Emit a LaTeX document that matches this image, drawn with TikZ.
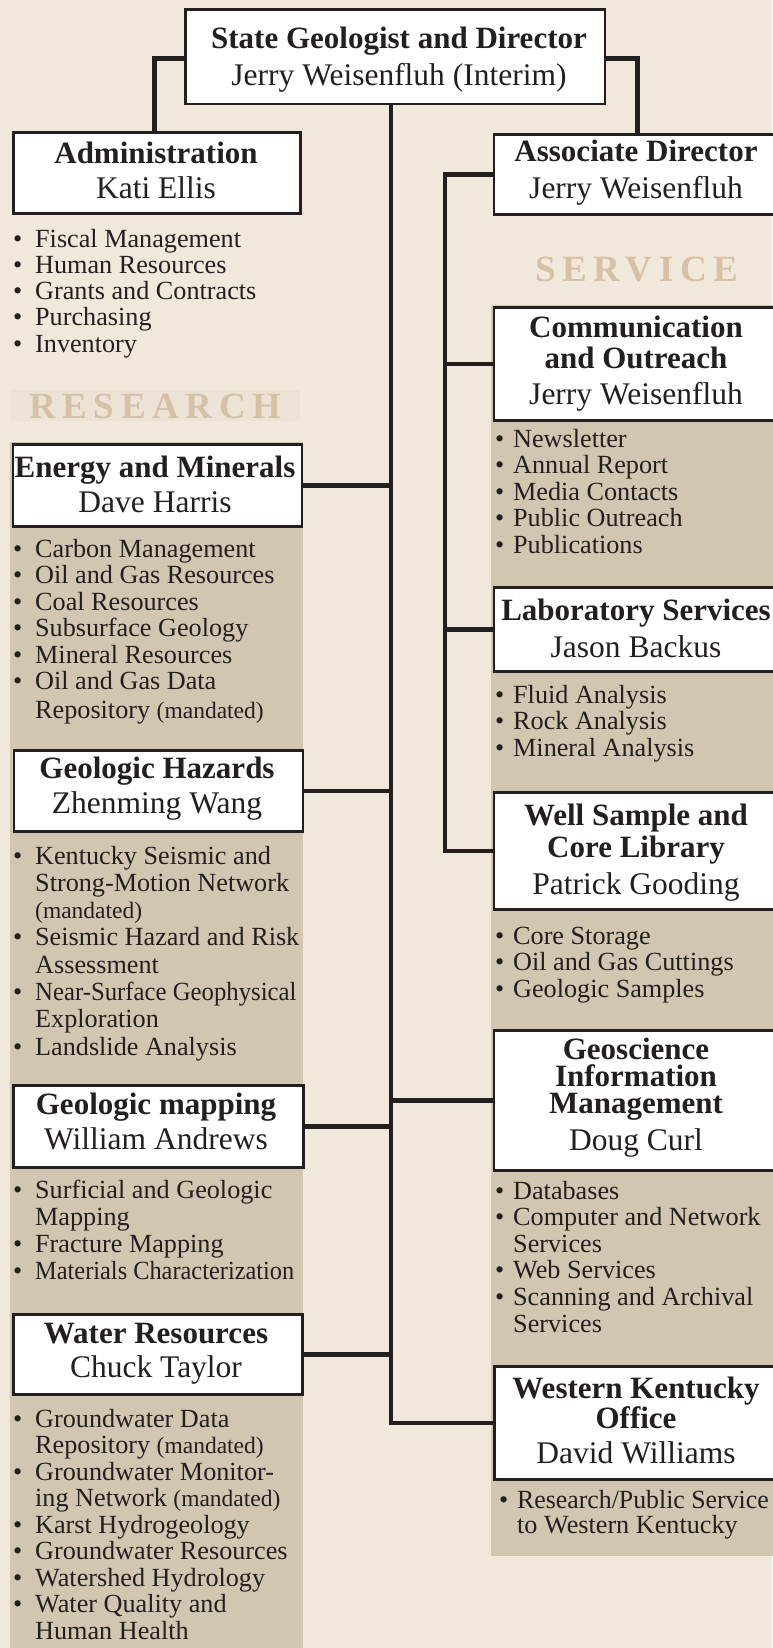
\documentclass[tikz,border=0pt]{standalone}
\usepackage{fontspec}
\usepackage{graphicx}
\setmainfont{Liberation Serif}
\definecolor{bgc}{HTML}{F0E8DA}
\definecolor{tanc}{HTML}{D1C6B0}
\definecolor{sectc}{HTML}{D5C1A5}
\definecolor{bandc}{HTML}{ECE2D5}
\definecolor{ink}{HTML}{231F20}
\newlength\bw
\newcommand\xhd{\bfseries\fontsize{31}{31}\selectfont}
\newcommand\xnm{\fontsize{31.5}{31.5}\selectfont}
\newcommand\xls{\fontsize{26.2}{26.5}\selectfont}
\newcommand\xsect{\bfseries\fontsize{37}{37}\selectfont\addfontfeature{LetterSpace=18}}
\newcommand\mand{{\fontsize{23.5}{23.5}\selectfont (mandated)}}
\newcommand\xitm[1]{\hbox{\makebox[\bw][l]{\textbullet}#1}}
\newcommand\xcnt[1]{\hbox{\hskip\bw #1}}
\newcommand\xctr[2]{\vtop{\baselineskip=#1\relax\halign{\hfil##\hfil\cr#2\crcr}}}
\newcommand\xblk[2]{\vtop{\baselineskip=#1\relax\lineskiplimit=-100pt\lineskip=0pt #2}}
\tikzset{
  obox/.style={draw=ink, line width=2.5pt, fill=white, inner sep=0pt, rectangle, anchor=north west},
  thead/.style={font=\xhd, text=ink, inner sep=0pt, anchor=base},
  tname/.style={font=\xnm, text=ink, inner sep=0pt, anchor=base},
  tlist/.style={font=\xls, text=ink, inner sep=0pt, anchor=base west},
  tsect/.style={font=\xsect, text=sectc, inner sep=0pt, anchor=base west},
  tconn/.style={draw=ink, line width=4.5pt, line cap=rect, line join=miter},
}
\begin{document}
\begin{tikzpicture}[x=1pt,y=-1pt]
\useasboundingbox (0,0) rectangle (772,1648);
\fill[bgc] (0,0) rectangle (772,1648);
% bands and panels
\fill[bandc] (11,390) rectangle (300,421);
\fill[tanc] (10,442) rectangle (303,1648);
\fill[tanc] (491,305) rectangle (790,1556);

% spine coordinates
\coordinate (sp) at (391,107);
\coordinate (sp2) at (445,171);

% boxes
\node[obox, minimum width=419.5pt, minimum height=94.5pt] (top) at (184.25,8.25) {};
\node[obox, minimum width=287pt, minimum height=81pt] (admin) at (12.25,131.25) {};
\node[obox, minimum width=289pt, minimum height=82pt] (energy) at (11.5,443.25) {};
\node[obox, minimum width=289pt, minimum height=81pt] (haz) at (12.5,749.25) {};
\node[obox, minimum width=290pt, minimum height=82pt] (map) at (12.25,1084.25) {};
\node[obox, minimum width=289pt, minimum height=80pt] (water) at (12.25,1313.25) {};
\node[obox, minimum width=300pt, minimum height=80pt] (ad) at (492.5,133.25) {};
\node[obox, minimum width=300pt, minimum height=113pt] (comm) at (492.5,306.25) {};
\node[obox, minimum width=300pt, minimum height=84pt] (lab) at (492.5,586.25) {};
\node[obox, minimum width=300pt, minimum height=117pt] (well) at (492.5,791.25) {};
\node[obox, minimum width=300pt, minimum height=140pt] (geo) at (492.5,1029.25) {};
\node[obox, minimum width=300pt, minimum height=113pt] (wk) at (493,1365.25) {};

% connectors
\draw[tconn] ([yshift=-2pt]top.west) -| ([xshift=-2.5pt]admin.north);
\draw[tconn] ([yshift=-2pt]top.east) -| ([xshift=-6.5pt]ad.north);
\draw[tconn] (sp) |- (wk.west);
\draw[tconn] (energy.east) -- (energy.east -| sp);
\draw[tconn] (haz.east) -- (haz.east -| sp);
\draw[tconn] (map.east) -- (map.east -| sp);
\draw[tconn] (water.east) -- (water.east -| sp);
\draw[tconn] (geo.west) -- (geo.west -| sp);
\draw[tconn] (ad.west) -- (ad.west -| sp2) |- (well.west);
\draw[tconn] (comm.west) -- (comm.west -| sp2);
\draw[tconn] (lab.west) -- (lab.west -| sp2);

% section labels
\node[tsect] (research) at (29,418) {RESEARCH};
\node[tsect] (service) at (535,281) {SERVICE};

% titles
\node[thead] (topH) at (399,49) {State Geologist and Director};
\node[tname] (topN) at (399,85.5) {Jerry Weisenfluh (Interim)};
\node[thead] (adminH) at (156,164) {Administration};
\node[tname] (adminN) at (156,199) {Kati Ellis};
\node[thead] (energyH) at (155,477) {Energy and Minerals};
\node[tname] (energyN) at (155,512) {Dave Harris};
\node[thead] (hazH) at (157,778) {Geologic Hazards};
\node[tname] (hazN) at (157,813) {Zhenming Wang};
\node[thead] (mapH) at (156,1114) {Geologic mapping};
\node[tname] (mapN) at (156,1149) {William Andrews};
\node[thead] (waterH) at (156,1343) {Water Resources};
\node[tname] (waterN) at (156,1377) {Chuck Taylor};
\node[thead] (adH) at (636,162) {Associate Director};
\node[tname] (adN) at (636,198) {Jerry Weisenfluh};
\node[thead] (commH) at (636,337) {\xctr{31pt}{Communication\cr and Outreach}};
\node[tname] (commN) at (636,404) {Jerry Weisenfluh};
\node[thead] (labH) at (636,620) {Laboratory Services};
\node[tname] (labN) at (636,657) {Jason Backus};
\node[thead] (wellH) at (636,825) {\xctr{32pt}{Well Sample and\cr Core Library}};
\node[tname] (wellN) at (636,894) {Patrick Gooding};
\node[thead] (geoH) at (636,1059) {\xctr{27pt}{Geoscience\cr Information\cr Management}};
\node[tname] (geoN) at (636,1150) {Doug Curl};
\node[thead] (wkH) at (636,1398) {\xctr{30pt}{Western Kentucky\cr Office}};
\node[tname] (wkN) at (636,1463) {David Williams};

% lists
\node[tlist] (adminL) at (13,247) {\setlength\bw{22pt}\xblk{26.25pt}{%
  \xitm{Fiscal Management}\xitm{Human Resources}\xitm{Grants and Contracts}%
  \xitm{Purchasing}\xitm{Inventory}}};
\node[tlist] (energyL) at (13,557) {\setlength\bw{22pt}\xblk{26.5pt}{%
  \xitm{Carbon Management}\xitm{Oil and Gas Resources}\xitm{Coal Resources}%
  \xitm{Subsurface Geology}\xitm{Mineral Resources}\xitm{Oil and Gas Data}%
  \vskip2.5pt\xcnt{Repository \mand}}};
\node[tlist] (hazL) at (13,864) {\setlength\bw{22pt}\xblk{27.3pt}{%
  \xitm{Kentucky Seismic and}\xcnt{Strong-Motion Network}\xcnt{\mand}%
  \xitm{Seismic Hazard and Risk}\xcnt{Assessment}%
  \xitm{\scalebox{0.945}[1]{Near-Surface Geophysical}}\xcnt{Exploration}\xitm{Landslide Analysis}}};
\node[tlist] (mapL) at (13,1198) {\setlength\bw{22pt}\xblk{27.3pt}{%
  \xitm{Surficial and Geologic}\xcnt{Mapping}\xitm{Fracture Mapping}%
  \xitm{\scalebox{0.93}[1]{Materials Characterization}}}};
\node[tlist] (waterL) at (13,1427) {\setlength\bw{22pt}\xblk{26.5pt}{%
  \xitm{Groundwater Data}\xcnt{Repository \mand}%
  \xitm{Groundwater Monitor-}\xcnt{ing Network \mand}%
  \xitm{Karst Hydrogeology}\xitm{Groundwater Resources}\xitm{Watershed Hydrology}%
  \xitm{Water Quality and}\xcnt{Human Health}}};
\node[tlist] (commL) at (495,447) {\setlength\bw{18pt}\xblk{26.5pt}{%
  \xitm{Newsletter}\xitm{Annual Report}\xitm{Media Contacts}%
  \xitm{Public Outreach}\xitm{Publications}}};
\node[tlist] (labL) at (495,703) {\setlength\bw{18pt}\xblk{26.5pt}{%
  \xitm{Fluid Analysis}\xitm{Rock Analysis}\xitm{Mineral Analysis}}};
\node[tlist] (wellL) at (495,944) {\setlength\bw{18pt}\xblk{26.5pt}{%
  \xitm{Core Storage}\xitm{Oil and Gas Cuttings}\xitm{Geologic Samples}}};
\node[tlist] (geoL) at (495,1199) {\setlength\bw{18pt}\xblk{26.6pt}{%
  \xitm{Databases}\xitm{Computer and Network}\xcnt{Services}%
  \xitm{Web Services}\xitm{Scanning and Archival}\xcnt{Services}}};
\node[tlist] (wkL) at (499,1508) {\setlength\bw{18pt}\xblk{25pt}{%
  \xitm{\scalebox{0.985}[1]{Research/Public Service}}\xcnt{to Western Kentucky}}};
\end{tikzpicture}
\end{document}
